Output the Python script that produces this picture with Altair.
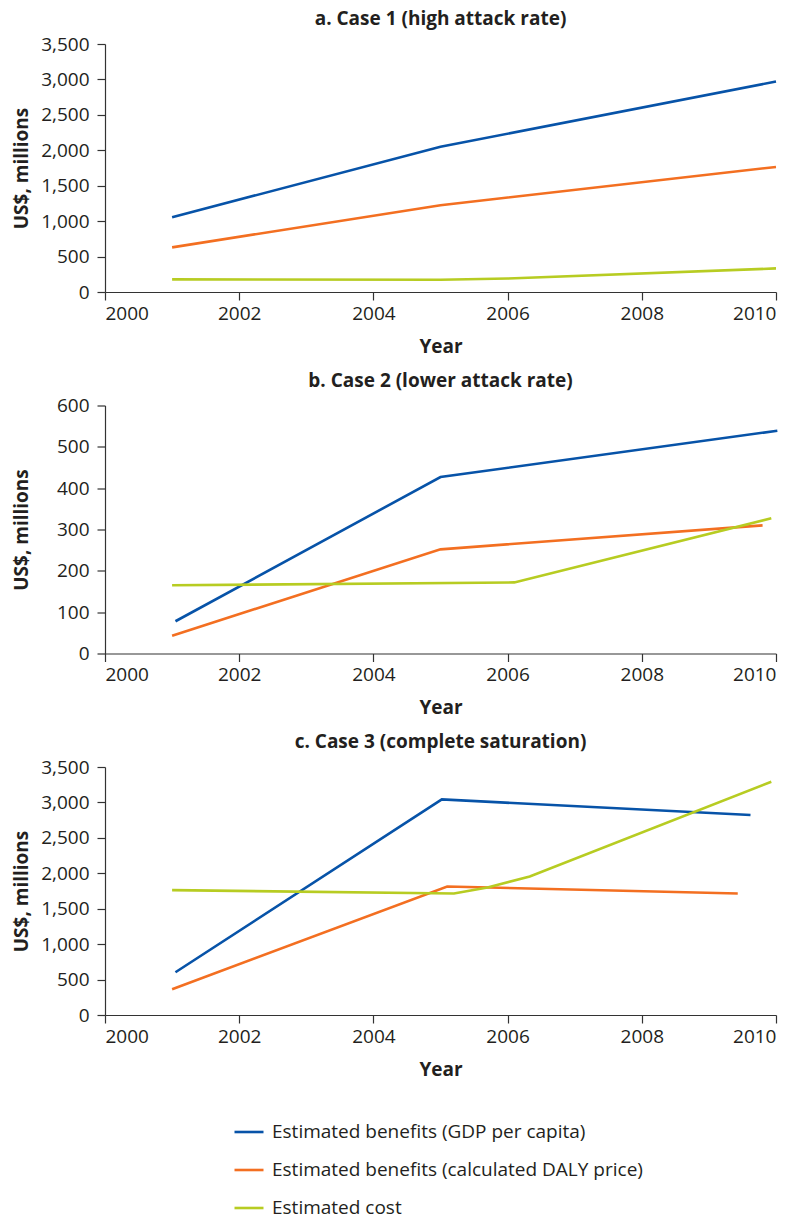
import altair as alt
import pandas as pd

SERIES = [
    "Estimated benefits (GDP per capita)",
    "Estimated benefits (calculated DALY price)",
    "Estimated cost",
]
COLORS = ["#0753A8", "#F36F21", "#B7CC22"]

# Panel a
a_gdp_years = [2001, 2005, 2010]
a_gdp_vals = [1055, 2050, 2970]
a_daly_years = [2001, 2005, 2010]
a_daly_vals = [630, 1225, 1765]
a_cost_years = [2001, 2005, 2006, 2010]
a_cost_vals = [178, 172, 190, 333]

# Panel b
b_gdp_years = [2001.05, 2005, 2010.02]
b_gdp_vals = [78, 427, 539]
b_daly_years = [2001, 2005, 2009.8]
b_daly_vals = [43, 252, 310]
b_cost_years = [2001, 2006.1, 2009.93]
b_cost_vals = [165, 172, 327]

# Panel c
c_gdp_years = [2001.05, 2005.02, 2009.62]
c_gdp_vals = [603, 3043, 2822]
c_daly_years = [2001, 2005.1, 2009.43]
c_daly_vals = [363, 1813, 1714]
c_cost_years = [2001, 2005.2, 2005.7, 2006.33, 2009.93]
c_cost_vals = [1762, 1714, 1800, 1954, 3292]

TITLES = [
    "a. Case 1 (high attack rate)",
    "b. Case 2 (lower attack rate)",
    "c. Case 3 (complete saturation)",
]
Y_MAX = [3500, 600, 3500]
Y_STEP = [500, 100, 500]
X_TICKS = [2000, 2002, 2004, 2006, 2008, 2010]


def frame(parts):
    rows = []
    for name, years, vals in parts:
        for i, (yr, v) in enumerate(zip(years, vals)):
            rows.append({"series": name, "year": yr, "value": v, "ord": i})
    return pd.DataFrame(rows)


dfs = [
    frame([(SERIES[0], a_gdp_years, a_gdp_vals), (SERIES[1], a_daly_years, a_daly_vals),
           (SERIES[2], a_cost_years, a_cost_vals)]),
    frame([(SERIES[0], b_gdp_years, b_gdp_vals), (SERIES[1], b_daly_years, b_daly_vals),
           (SERIES[2], b_cost_years, b_cost_vals)]),
    frame([(SERIES[0], c_gdp_years, c_gdp_vals), (SERIES[1], c_daly_years, c_daly_vals),
           (SERIES[2], c_cost_years, c_cost_vals)]),
]

FONT = "Open Sans"
TXT = "#231f20"
W, H = 671, 248
FS = 19

panels = []
for df, title, ymax, ystep in zip(dfs, TITLES, Y_MAX, Y_STEP):
    ch = alt.Chart(df).mark_line(strokeWidth=2.6).encode(
        x=alt.X("year:Q", scale=alt.Scale(domain=[2000, 2010], nice=False),
                axis=alt.Axis(values=X_TICKS, format="d", title="Year",
                              labelPadding=4, titlePadding=14)),
        y=alt.Y("value:Q", scale=alt.Scale(domain=[0, ymax], nice=False),
                axis=alt.Axis(values=list(range(0, ymax + 1, ystep)), format=",d",
                              title="US$, millions", labelPadding=8,
                              titleX=-84, titleY=H / 2, titleAngle=270,
                              titleAlign="center", titleBaseline="middle")),
        color=alt.Color("series:N", scale=alt.Scale(domain=SERIES, range=COLORS),
                        legend=alt.Legend(title=None)),
        order="ord:Q",
    ).properties(
        width=W, height=H,
        title=alt.TitleParams(title, fontSize=FS, fontWeight="bold", font=FONT,
                              color=TXT, anchor="middle", frame="group", offset=6),
    )
    panels.append(ch)

chart = alt.vconcat(*panels, spacing=113.5, bounds="flush").properties(
    padding={"left": 4, "top": 2, "right": 5, "bottom": 2}
).configure_view(stroke=None).configure_axis(
    labelFont=FONT, labelFontSize=FS, labelColor=TXT,
    titleFont=FONT, titleFontSize=FS, titleFontWeight="bold", titleColor=TXT,
    domainColor="#333333", domainWidth=1.2, tickColor="#333333", tickWidth=1.2,
    tickSize=8, grid=False,
).configure_legend(
    orient="none", legendX=128, legendY=1072, direction="vertical",
    symbolType="stroke", symbolSize=841, symbolStrokeWidth=2.6,
    labelFont=FONT, labelFontSize=FS, labelColor=TXT, labelLimit=0,
    labelOffset=7, rowPadding=12, padding=0,
)

chart.save("out.html", embed_options={"renderer": "svg", "actions": False})
